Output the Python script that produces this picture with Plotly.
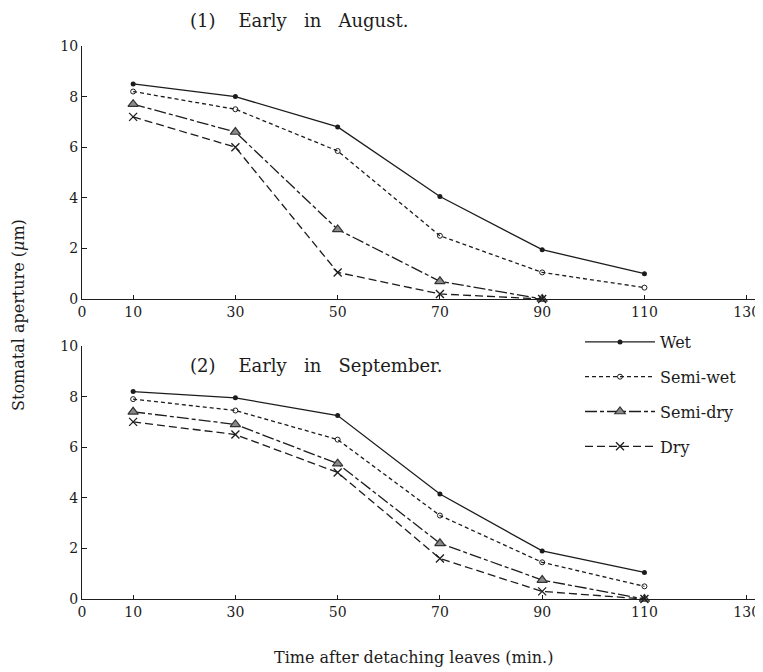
import plotly.graph_objects as go

# ---- data ----
times = [10, 30, 50, 70, 90, 110]
series_names = ["Wet", "Semi-wet", "Semi-dry", "Dry"]

aug_wet = [8.5, 8.0, 6.8, 4.05, 1.95, 1.0]
aug_semi_wet = [8.2, 7.5, 5.85, 2.5, 1.05, 0.45]
aug_semi_dry = [7.7, 6.6, 2.75, 0.7, 0.0]
aug_dry = [7.2, 6.0, 1.05, 0.2, 0.0]

sep_wet = [8.2, 7.95, 7.25, 4.15, 1.9, 1.05]
sep_semi_wet = [7.9, 7.45, 6.3, 3.3, 1.45, 0.5]
sep_semi_dry = [7.4, 6.9, 5.35, 2.2, 0.75, 0.0]
sep_dry = [7.0, 6.5, 5.0, 1.6, 0.3, 0.0]

x_tick_vals = [0, 10, 30, 50, 70, 90, 110, 130]
y_tick_vals = [0, 2, 4, 6, 8, 10]

NB = "\u00a0"
title_top = "(1)" + NB * 4 + "Early" + NB * 3 + "in" + NB * 3 + "August."
title_bottom = "(2)" + NB * 4 + "Early" + NB * 3 + "in" + NB * 3 + "September."
y_title = "Stomatal aperture (<i>\u03bc</i>m)"
x_title = "Time after detaching leaves (min.)"

# ---- styles ----
INK = "#1c1c1c"
FONT = "DejaVu Serif, serif"
styles = {
    "Wet": dict(line=dict(color=INK, width=1.3, dash="solid"),
                marker=dict(symbol="circle", size=5, color=INK)),
    "Semi-wet": dict(line=dict(color=INK, width=1.3, dash="4px,3px"),
                     marker=dict(symbol="circle-open", size=5, color=INK, line=dict(width=1))),
    "Semi-dry": dict(line=dict(color=INK, width=1.3, dash="12px,3px,4px,3px"),
                     marker=dict(symbol="triangle-up", size=9, color="#8a8a8a",
                                 line=dict(color="#333333", width=1.2))),
    "Dry": dict(line=dict(color=INK, width=1.3, dash="8px,4px"),
                marker=dict(symbol="x-thin-open", size=8, color=INK, line=dict(color=INK, width=1.3))),
}

fig = go.Figure()

top = [aug_wet, aug_semi_wet, aug_semi_dry, aug_dry]
bottom = [sep_wet, sep_semi_wet, sep_semi_dry, sep_dry]

for name, ys in zip(series_names, top):
    fig.add_trace(go.Scatter(x=times[:len(ys)], y=ys, mode="lines+markers", name=name,
                             showlegend=False, cliponaxis=False, xaxis="x", yaxis="y",
                             **styles[name]))
for name, ys in zip(series_names, bottom):
    fig.add_trace(go.Scatter(x=times[:len(ys)], y=ys, mode="lines+markers", name=name,
                             legendgroup=name, showlegend=True, cliponaxis=False,
                             xaxis="x2", yaxis="y2", **styles[name]))

# the page body adds an 8px offset; size the figure to fit the window
OFF = 8
W, H = 763 - OFF, 672 - OFF
L, R = 82 - OFF, 3
pw = W - L - R

def py(p):  # screen pixel y -> paper y
    return (H - (p - OFF)) / H

def px(p):  # screen pixel x -> paper x
    return (p - OFF - L) / pw

xaxis_common = dict(range=[0, 132.6], tickvals=x_tick_vals, ticktext=[str(v) for v in x_tick_vals],
                    showline=True, linecolor=INK, linewidth=1.3, ticks="inside", ticklen=4,
                    tickcolor=INK, showgrid=False, zeroline=False, automargin=False,
                    tickfont=dict(family=FONT, size=14, color=INK))
yaxis_common = dict(range=[0, 10], tickvals=y_tick_vals, showline=True, linecolor=INK,
                    linewidth=1.3, ticks="inside", ticklen=5, tickcolor=INK, showgrid=False,
                    zeroline=False, automargin=False,
                    tickfont=dict(family=FONT, size=14, color=INK))

fig.update_layout(
    width=W, height=H,
    margin=dict(l=L, r=R, t=0, b=0, autoexpand=False),
    paper_bgcolor="white", plot_bgcolor="white",
    font=dict(family=FONT, color=INK),
    xaxis=dict(domain=[0, 1], anchor="y", **xaxis_common),
    yaxis=dict(domain=[py(299), py(46)], anchor="x", **yaxis_common),
    xaxis2=dict(domain=[0, 1], anchor="y2", **xaxis_common),
    yaxis2=dict(domain=[py(599), py(346)], anchor="x2", **yaxis_common),
    legend=dict(x=px(580), y=py(325), xanchor="left", yanchor="top",
                font=dict(family=FONT, size=16, color=INK), tracegroupgap=11,
                bgcolor="rgba(0,0,0,0)", itemwidth=70),
    showlegend=True,
    annotations=[
        dict(text=title_top, x=px(188), y=py(20), xref="paper", yref="paper",
             xanchor="left", yanchor="middle", showarrow=False,
             font=dict(family=FONT, size=18, color=INK)),
        dict(text=title_bottom, x=px(188), y=py(365), xref="paper", yref="paper",
             xanchor="left", yanchor="middle", showarrow=False,
             font=dict(family=FONT, size=18, color=INK)),
        dict(text=y_title, x=px(18), y=py(315), xref="paper", yref="paper",
             xanchor="center", yanchor="middle", textangle=-90, showarrow=False,
             font=dict(family=FONT, size=16, color=INK)),
        dict(text=x_title, x=px(413), y=py(657), xref="paper", yref="paper",
             xanchor="center", yanchor="middle", showarrow=False,
             font=dict(family=FONT, size=16, color=INK)),
    ],
)

fig.write_html("out.html")
